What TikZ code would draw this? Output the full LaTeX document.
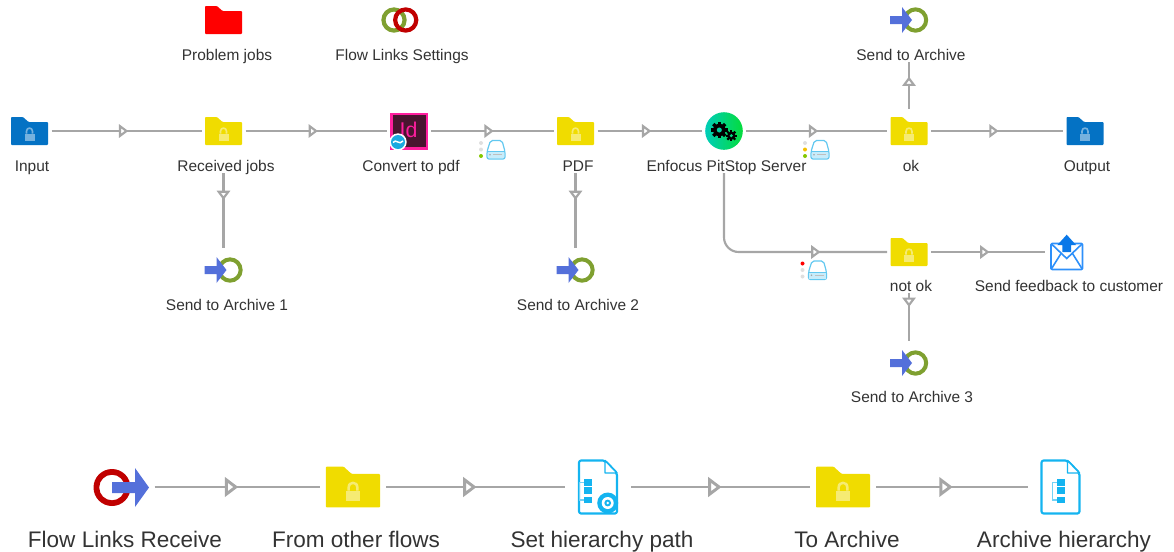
\documentclass[tikz,border=0pt]{standalone}
\usepackage{fontspec}
\setmainfont{Liberation Sans}
\usetikzlibrary{arrows.meta,decorations.markings,calc}
\definecolor{linegray}{HTML}{A6A6A6}
\definecolor{folderyellow}{HTML}{F0DC00}
\definecolor{folderblue}{HTML}{0472C4}
\definecolor{ringgreen}{HTML}{7FA030}
\definecolor{ringred}{HTML}{C00000}
\definecolor{arrowblue}{HTML}{5470DA}
\definecolor{docblue}{HTML}{14B4F0}
\definecolor{driveblue}{HTML}{62C8F0}
\definecolor{mailblue}{HTML}{2E90FA}
\definecolor{mailarrow}{HTML}{0A78E8}
\definecolor{textgray}{HTML}{333333}
\definecolor{idpink}{HTML}{FF1E9E}
\definecolor{iddark}{HTML}{49152F}
\definecolor{idbadge}{HTML}{1BA9E0}
\definecolor{pitteal}{HTML}{00CDB8}
\definecolor{pitgreen}{HTML}{05DC3C}
\definecolor{holeA}{HTML}{00D0A0}
\definecolor{holeB}{HTML}{00D880}
\definecolor{dotgreen}{HTML}{84C800}
\definecolor{dotyellow}{HTML}{F5C000}
\newcommand{\gearat}[4]{%
  \foreach \a in {0,45,90,135}{\fill[black,shift={(#1,#2)},rotate=\a] (-.2*#3,-#3) rectangle (.2*#3,#3);}
  \fill[black] (#1,#2) circle (.74*#3);
  \fill[#4] (#1,#2) circle (.3*#3);}
\tikzset{
  x=0.75pt,y=-0.75pt,
  smalltri/.tip={Triangle[length=7pt,width=10pt,fill=white]},
  bigtri/.tip={Triangle[length=10pt,width=14.5pt,fill=white]},
  conn/.style={draw=linegray,line width=1.6pt,postaction={decorate,decoration={markings,mark=at position #1 with {\arrow{smalltri}}}}},
  bigconn/.style={draw=linegray,line width=2.2pt,postaction={decorate,decoration={markings,mark=at position #1 with {\arrow{bigtri}}}}},
  iconbox/.style={minimum width=33pt,minimum height=33pt,inner sep=0pt,outer sep=0pt},
  bigbox/.style={minimum width=49.5pt,minimum height=49.5pt,inner sep=0pt,outer sep=0pt},
  lab/.style={font=\fontsize{11.6}{14}\selectfont,text=textgray,inner sep=0pt,outer sep=0pt,text height=9.5pt,text depth=1pt},
  biglab/.style={font=\fontsize{16.9}{20}\selectfont,text=textgray,inner sep=0pt,outer sep=0pt,text height=12.5pt,text depth=3.5pt},
  pics/folderic/.style 2 args={code={
    \fill[#1,rounded corners=0.7pt] (-18.5,-14) -- (-6.5,-14) -- (-1,-9) -- (18.5,-9) -- (18.5,14) -- (-18.5,14) -- cycle;
    \ifnum#2=1
    \fill[white,opacity=.45] (-5,2.5) rectangle (5,9.5);
    \fill[white,opacity=.45] (-3.8,2.5) -- (-3.8,0) .. controls (-3.8,-5) and (3.8,-5) .. (3.8,0) -- (3.8,2.5) -- (2.1,2.5) -- (2.1,0) .. controls (2.1,-2.6) and (-2.1,-2.6) .. (-2.1,0) -- (-2.1,2.5) -- cycle;
    \fi
  }},
  pics/archiveic/.style={code={
    \fill[ringgreen,even odd rule] (6.5,0) circle (12.7) (6.5,0) circle (8.6);
    \fill[arrowblue] (-19,-4) -- (-7,-4) -- (-7,-13) -- (3,0) -- (-7,13) -- (-7,4) -- (-19,4) -- cycle;
  }},
  pics/driveic/.style n args={3}{code={
    \fill[#1] (-6,-6.5) circle (2);
    \fill[#2] (-6,0) circle (2);
    \fill[#3] (-6,6.5) circle (2);
    \draw[driveblue,line width=.9pt,fill=white,rounded corners=1.5pt] (3.5,-9) -- (15,-9) -- (18,2) -- (18,9.5) -- (0,9.5) -- (0,2) -- cycle;
    \fill[driveblue!35] (.7,2.5) rectangle (17.3,8.8);
    \draw[driveblue,line width=.7pt] (0,2) -- (18,2);
    \fill[gray!70] (3,5.2) circle (.9);
    \fill[gray!50] (6,4.8) rectangle (15,5.8);
  }},
  pics/docic/.style={code={
    \draw[docblue,line width=1.6pt,line join=round,rounded corners=1.6pt,fill=white] (-19,-26.5) -- (7,-26.5) -- (19,-14) -- (19,26.5) -- (-19,26.5) -- cycle;
    \draw[docblue,line width=1.1pt,line join=round,fill=white] (7,-26.5) -- (7,-14) -- (19,-14) -- cycle;
    \fill[docblue] (-3.8+#1,-7.7) rectangle (4.5+#1,-1);
    \fill[docblue] (-3.8+#1,.3) rectangle (4.5+#1,7);
    \fill[docblue] (-3.8+#1,9.7) rectangle (4.5+#1,16.3);
    \draw[docblue!60,line width=.8pt] (-3.8+#1,-4.3) -- (-8+#1,-4.3) -- (-8+#1,13) -- (-3.8+#1,13);
  }}
}
\begin{document}
\begin{tikzpicture}
\useasboundingbox (0,0) rectangle (1174,551);

% icon nodes
\node[iconbox] (problem) at (223.5,20) {};
\node[iconbox] (settings) at (400,20) {};
\node[iconbox] (archtop) at (909,20) {};
\node[iconbox] (input) at (29.5,131) {};
\node[iconbox] (received) at (223.5,131) {};
\node[iconbox] (convert) at (409,131) {};
\node[iconbox] (pdf) at (575.5,131) {};
\node[iconbox] (pitstop) at (724,131) {};
\node[iconbox] (ok) at (909,131) {};
\node[iconbox] (output) at (1085,131) {};
\node[iconbox] (notok) at (909,252) {};
\node[iconbox] (mail) at (1066.5,252) {};
\node[iconbox] (arch1) at (223.5,270) {};
\node[iconbox] (arch2) at (575.5,270) {};
\node[iconbox] (arch3) at (909,363) {};
\node[bigbox] (receive) at (121.5,487) {};
\node[bigbox] (fromother) at (353,487) {};
\node[bigbox] (sethier) at (598,487) {};
\node[bigbox] (toarchive) at (843,487) {};
\node[bigbox] (archhier) at (1060.5,487) {};

% labels
\node[lab] (lproblem) at (227,55) {Problem jobs};
\node[lab] (lsettings) at (402,55) {Flow Links Settings};
\node[lab] (larchtop) at (911,55) {Send to Archive};
\node[lab] (linput) at (32,166) {Input};
\node[lab] (lreceived) at (226,166) {Received jobs};
\node[lab] (lconvert) at (411,166) {Convert to pdf};
\node[lab] (lpdf) at (578,166) {PDF};
\node[lab] (lpitstop) at (726.5,166) {Enfocus PitStop Server};
\node[lab] (lok) at (911,166) {ok};
\node[lab] (loutput) at (1087,166) {Output};
\node[lab] (lnotok) at (911,286) {not ok};
\node[lab] (lmail) at (1069,286) {Send feedback to customer};
\node[lab] (larch1) at (227,305) {Send to Archive 1};
\node[lab] (larch2) at (578,305) {Send to Archive 2};
\node[lab] (larch3) at (912,397) {Send to Archive 3};
\node[biglab] (lreceive) at (125,541) {Flow Links Receive};
\node[biglab] (lfromother) at (356,541) {From other flows};
\node[biglab] (lsethier) at (602,541) {Set hierarchy path};
\node[biglab] (ltoarchive) at (847,541) {To Archive};
\node[biglab] (larchhier) at (1064,541) {Archive hierarchy};

% connectors
\draw[conn=.512] (input) -- (received);
\draw[conn=.512] (received) -- (convert);
\draw[conn=.512] (convert) -- (pdf);
\draw[conn=.515] (pdf) -- (pitstop);
\draw[conn=.512] (pitstop) -- (ok);
\draw[conn=.512] (ok) -- (output);
\draw[conn=.515] (notok) -- (mail);
\draw[conn=.36] (received |- lreceived.south) -- (arch1);
\draw[conn=.36] (pdf |- lpdf.south) -- (arch2);
\draw[conn=.69] (ok) -- (archtop |- larchtop.south);
\draw[conn=.29] (notok |- lnotok.south) -- (arch3);
\draw[conn=.718,rounded corners=11pt] (pitstop |- lpitstop.south) |- (notok);
\draw[bigconn=.506] (receive) -- (fromother);
\draw[bigconn=.506] (fromother) -- (sethier);
\draw[bigconn=.506] (sethier) -- (toarchive);
\draw[bigconn=.506] (toarchive) -- (archhier);

% folders
\pic at (problem) {folderic={red}{0}};
\pic at (input) {folderic={folderblue}{1}};
\pic at (received) {folderic={folderyellow}{1}};
\pic at (pdf) {folderic={folderyellow}{1}};
\pic at (ok) {folderic={folderyellow}{1}};
\pic at (output) {folderic={folderblue}{1}};
\pic at (notok) {folderic={folderyellow}{1}};
\pic[scale=1.46] at (fromother) {folderic={folderyellow}{1}};
\pic[scale=1.46] at (toarchive) {folderic={folderyellow}{1}};

% archive icons
\pic at (archtop) {archiveic};
\pic at (arch1) {archiveic};
\pic at (arch2) {archiveic};
\pic at (arch3) {archiveic};

% flow links settings rings
\fill[ringgreen,even odd rule] ($(settings)+(-6,0)$) circle (12.7) ($(settings)+(-6,0)$) circle (8.4);
\fill[ringred,even odd rule] ($(settings)+(5.7,0)$) circle (12.7) ($(settings)+(5.7,0)$) circle (8.4);

% InDesign icon
\fill[idpink] ($(convert)+(-19,-18.5)$) rectangle ($(convert)+(19,18.5)$);
\fill[iddark] ($(convert)+(-16.5,-16)$) rectangle ($(convert)+(16.5,16)$);
\node[font=\fontsize{16}{16}\selectfont,text=idpink,inner sep=0pt] (idmark) at ($(convert)+(-.5,-1)$) {Id};
\fill[white] ($(convert)+(-11,11)$) circle (8.7);
\fill[idbadge] ($(convert)+(-11,11)$) circle (7);
\draw[white,line width=1.1pt] ($(convert)+(-16,11.5)$) .. controls ($(convert)+(-13,7)$) and ($(convert)+(-10,15)$) .. ($(convert)+(-6,10)$);

% PitStop icon
\shade[left color=pitteal,right color=pitgreen] (pitstop) circle (18.8);
\gearat{719.3}{130}{8.4}{holeA}
\gearat{731.3}{135.7}{5.6}{holeB}

% drive icons
\pic at (487,149.5) {driveic={gray!25}{gray!25}{dotgreen}};
\pic at (811,149.5) {driveic={gray!25}{dotyellow}{dotgreen}};
\pic at (808.5,270) {driveic={red}{gray!25}{gray!25}};

% mail icon
\draw[mailblue,line width=1.2pt,rounded corners=1pt,fill=white] (1051,243.5) rectangle (1082.5,269.5);
\draw[mailblue,line width=1.2pt] (1051,243.5) -- (1066.7,258.5) -- (1082.5,243.5);
\draw[mailblue,line width=1.2pt] (1051,269.5) -- (1061,253.5) (1082.5,269.5) -- (1072.5,253.5);
\fill[mailarrow] (1066.7,234.7) -- (1076,245) -- (1071,245) -- (1071,252) -- (1062.4,252) -- (1062.4,245) -- (1057.4,245) -- cycle;

% flow links receive icon
\fill[ringred,even odd rule] (112,487.5) circle (18.5) (112,487.5) circle (12.8);
\fill[arrowblue] (112,482) -- (135,482) -- (135,468) -- (149,487.5) -- (135,507) -- (135,493) -- (112,493) -- cycle;

% doc icons
\pic at (sethier) {docic=-10.3};
\pic at (archhier) {docic=0};
\fill[docblue] (607.7,503) circle (10.5);
\fill[white] (607.7,503) circle (6);
\fill[docblue] (607.7,503) circle (3.4);
\fill[white] (607.7,503) circle (1.4);
\end{tikzpicture}
\end{document}
